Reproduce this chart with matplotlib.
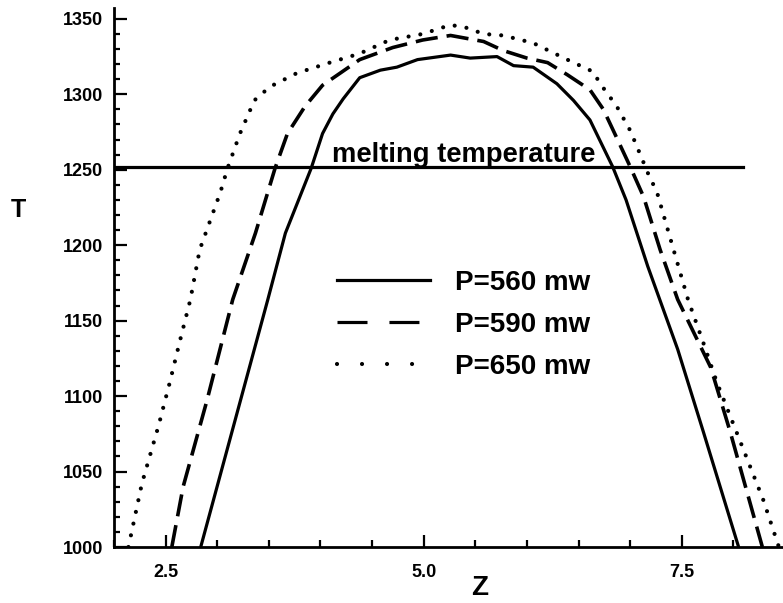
import matplotlib
matplotlib.use("Agg")
import matplotlib.pyplot as plt
from matplotlib.lines import Line2D
from matplotlib.ticker import MultipleLocator, FixedLocator

plt.rcParams['font.family'] = ['Liberation Sans', 'DejaVu Sans']
plt.rcParams['font.weight'] = 'bold'
plt.rcParams['lines.scale_dashes'] = False

# P = 560 mw (solid)
z_560 = [2.84, 3.49, 3.66, 3.91, 4.02, 4.12, 4.22, 4.38, 4.58, 4.74,
         4.94, 5.26, 5.45, 5.71, 5.87, 6.06, 6.29, 6.45, 6.61, 6.83, 6.96, 7.17,
         7.46, 7.71, 8.05]
t_560 = [1000, 1164, 1208, 1251, 1274, 1287, 1297, 1311, 1316, 1318,
         1323, 1326, 1324, 1325, 1319, 1318, 1307, 1296, 1283, 1252, 1230, 1186,
         1131, 1076, 1000]

# P = 590 mw (dashed)
z_590 = [2.56, 2.67, 2.90, 3.15, 3.37, 3.56, 3.68, 3.85, 4.02, 4.19, 4.38, 4.70,
         4.99, 5.26, 5.42, 5.58, 5.77, 6.00, 6.20, 6.39, 6.61, 6.74, 6.85, 7.00, 7.13,
         7.29, 7.46, 7.78, 7.97, 8.28]
t_590 = [1000, 1040, 1097, 1164, 1208, 1251, 1274, 1292, 1306, 1314, 1323, 1331,
         1336, 1339, 1337, 1335, 1329, 1324, 1321, 1313, 1303, 1290, 1274, 1252, 1232,
         1197, 1164, 1119, 1076, 1000]

# P = 650 mw (dotted)
z_650 = [2.14, 2.27, 2.43, 2.54, 2.64, 2.74, 2.83, 3.03, 3.10, 3.22, 3.36, 3.51, 3.77,
         4.09, 4.38, 4.67, 4.99, 5.26, 5.42, 5.58, 5.77, 6.06, 6.39, 6.64, 6.71, 6.87,
         7.00, 7.11, 7.17, 7.26, 7.42, 7.56, 7.71, 7.84, 8.10, 8.29, 8.44]
t_650 = [1000, 1042, 1080, 1109, 1137, 1164, 1197, 1235, 1251, 1274, 1296, 1305, 1314,
         1321, 1327, 1336, 1340, 1346, 1344, 1340, 1339, 1334, 1323, 1315, 1307, 1292,
         1276, 1258, 1248, 1235, 1197, 1164, 1135, 1109, 1064, 1031, 1000]

melting_T = 1252
melting_z = [2.0, 8.09]
labels = ['P=560 mw', 'P=590 mw', 'P=650 mw']
x_ticks = [2.5, 5.0, 7.5]
x_ticklabels = ['2.5', '5.0', '7.5']
y_ticks = [1000, 1050, 1100, 1150, 1200, 1250, 1300, 1350]

fig = plt.figure(figsize=(7.83, 6.03), dpi=100)
ax = fig.add_axes([114/783, 56/603, 1 - 114/783, (547 - 8)/603])

lw = 2.3
ax.plot(z_560, t_560, color='black', lw=lw, solid_capstyle='round', solid_joinstyle='round')
ax.plot(z_590, t_590, color='black', lw=lw + 0.3, dashes=[16, 6.5], dash_capstyle='butt')
ax.plot(z_650, t_650, color='black', lw=lw + 0.7, dashes=[0.01, 8.6],
        dash_capstyle='round')
ax.plot(melting_z, [melting_T, melting_T], color='black', lw=2.3)
ax.text(4.11, melting_T + 3, 'melting temperature', fontsize=19.7, fontweight='bold',
        ha='left', va='baseline')

ax.set_xlim(2.0, 8.48)
ax.set_ylim(1000, 1357.2)

for s in ['top', 'right']:
    ax.spines[s].set_visible(False)
for s in ['left', 'bottom']:
    ax.spines[s].set_linewidth(2.0)

ax.xaxis.set_major_locator(FixedLocator(x_ticks))
ax.set_xticklabels(x_ticklabels)
ax.xaxis.set_minor_locator(MultipleLocator(0.5))
ax.yaxis.set_major_locator(FixedLocator(y_ticks))
ax.yaxis.set_minor_locator(MultipleLocator(10))
ax.tick_params(which='both', direction='in', width=1.6, labelsize=13)
ax.tick_params(axis='y', which='major', length=9, pad=8)
ax.tick_params(axis='y', which='minor', length=4.5)
ax.tick_params(axis='x', which='major', length=9, pad=12)
ax.tick_params(axis='x', which='minor', length=5)
for lab in ax.get_xticklabels() + ax.get_yticklabels():
    lab.set_fontweight('bold')

fig.text(480/783, 1 - 588/603, 'Z', fontsize=20, fontweight='bold', ha='center', va='center')
fig.text(18/783, 1 - 210/603, 'T', fontsize=18, fontweight='bold', ha='center', va='center')

handles = [
    Line2D([], [], color='black', lw=lw),
    Line2D([], [], color='black', lw=lw, dashes=[21.6, 15.8]),
    Line2D([], [], color='black', lw=lw + 0.7, dashes=[0.01, 18.0], dash_capstyle='round'),
]
leg = ax.legend(handles, labels, loc='upper left',
                bbox_to_anchor=((337 - 114) / (783 - 114), (547 - 269.5) / 539),
                frameon=False, fontsize=20, handlelength=3.35, handletextpad=0.9,
                labelspacing=0.58, borderaxespad=0, borderpad=0)
for t in leg.get_texts():
    t.set_fontweight('bold')

fig.savefig('out.png', dpi=100)
